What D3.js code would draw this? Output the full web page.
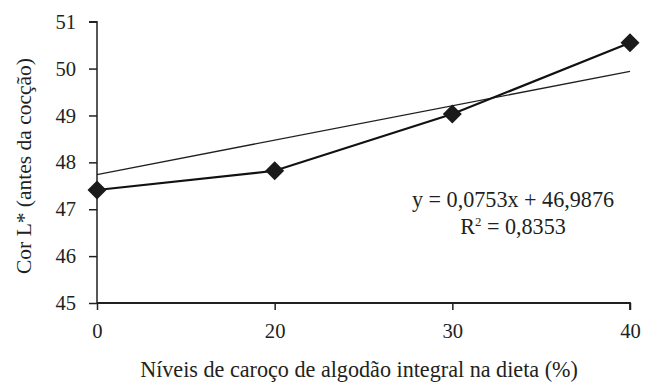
<!DOCTYPE html>
<html>
<head>
<meta charset="utf-8">
<script src="https://cdn.jsdelivr.net/npm/d3@7"></script>
<style>
  html, body { margin: 0; padding: 0; background: #fff; }
  svg { display: block; }
</style>
</head>
<body>
<svg id="chart" width="651" height="391"></svg>
<script>
const categories = ["0", "20", "30", "40"];
const values = [47.41, 47.82, 49.03, 50.55];
const trendValues = [47.74, 49.94]; // at first and last category
const yTicks = [45, 46, 47, 48, 49, 50, 51];
const xTitle = "Níveis de caroço de algodão integral na dieta (%)";
const yTitle = "Cor L* (antes da cocção)";
const equation = "y = 0,0753x + 46,9876";
const r2Label = "R";
const r2Value = " = 0,8353";

const FONT = "'Liberation Serif', 'Times New Roman', 'DejaVu Serif', serif";
const svg = d3.select("#chart");
const ink = "#231f20";

// calibrate font size so the x title spans ~438px as in the reference
const probe = svg.append("text").style("font-family", FONT).attr("font-size", 20).text(xTitle);
const w20 = probe.node().getComputedTextLength();
probe.remove();
const fs = Math.max(14, Math.min(24, 20 * 438 / w20));
const tfs = fs * 0.93;

const x = d3.scalePoint().domain(categories).range([97, 630]).padding(0);
const y = d3.scaleLinear().domain([45, 51]).range([303, 21.7]);

// Y axis
const yAxis = svg.append("g").attr("transform", "translate(97,0)")
  .call(d3.axisLeft(y).tickValues(yTicks).tickSize(8).tickPadding(13).tickFormat(d3.format("d")));
yAxis.attr("font-family", null);
yAxis.selectAll("text").attr("font-size", tfs).style("font-family", FONT).attr("fill", ink);
yAxis.selectAll("line").attr("stroke", ink).attr("stroke-width", 1.5);
yAxis.select(".domain").attr("stroke", ink).attr("stroke-width", 1.5).attr("d", `M-8,${y(51)}H0V${y(45)}`);

// X axis
const xAxis = svg.append("g").attr("transform", `translate(0,${y(45)})`)
  .call(d3.axisBottom(x).tickSize(7).tickPadding(13));
xAxis.attr("font-family", null);
xAxis.selectAll("text").attr("font-size", tfs).style("font-family", FONT).attr("fill", ink);
xAxis.selectAll("line").attr("stroke", ink).attr("stroke-width", 1.5);
xAxis.select(".domain").attr("stroke", ink).attr("stroke-width", 1.8).attr("d", `M${x(categories[0])},0H${x(categories[categories.length-1])}V7`);

// Trend line
const trendCats = [categories[0], categories[categories.length - 1]];
svg.append("path")
  .datum(trendCats.map((c, i) => [c, trendValues[i]]))
  .attr("fill", "none").attr("stroke", ink).attr("stroke-width", 1.3)
  .attr("d", d3.line().x(d => x(d[0])).y(d => y(d[1])));

// Data line
svg.append("path")
  .datum(categories.map((c, i) => [c, values[i]]))
  .attr("fill", "none").attr("stroke", "#111").attr("stroke-width", 2.2)
  .attr("d", d3.line().x(d => x(d[0])).y(d => y(d[1])));

// Diamond markers
const r = 9.5;
svg.selectAll("path.marker")
  .data(categories.map((c, i) => [c, values[i]]))
  .join("path").attr("class", "marker")
  .attr("fill", "#1a1a1a")
  .attr("d", d => {
    const cx = x(d[0]), cy = y(d[1]);
    return `M${cx},${cy - r}L${cx + r},${cy}L${cx},${cy + r}L${cx - r},${cy}Z`;
  });

// Equation
svg.append("text").attr("x", 513).attr("y", 207).attr("text-anchor", "middle")
  .style("font-family", FONT).attr("fill", ink).attr("font-size", fs).text(equation);
const r2 = svg.append("text").attr("x", 513).attr("y", 234).attr("text-anchor", "middle")
  .style("font-family", FONT).attr("fill", ink).attr("font-size", fs);
r2.append("tspan").text(r2Label);
r2.append("tspan").attr("font-size", fs * 0.58).attr("dy", -8).text("2");
r2.append("tspan").attr("dy", 8).text(r2Value);

// Axis titles
svg.append("text").attr("x", 359).attr("y", 377).attr("text-anchor", "middle")
  .style("font-family", FONT).attr("fill", ink).attr("font-size", fs).text(xTitle);
svg.append("text").attr("transform", "translate(31,166) rotate(-90)")
  .attr("text-anchor", "middle").style("font-family", FONT).attr("fill", ink)
  .attr("font-size", fs * 0.97).text(yTitle);
</script>
</body>
</html>
